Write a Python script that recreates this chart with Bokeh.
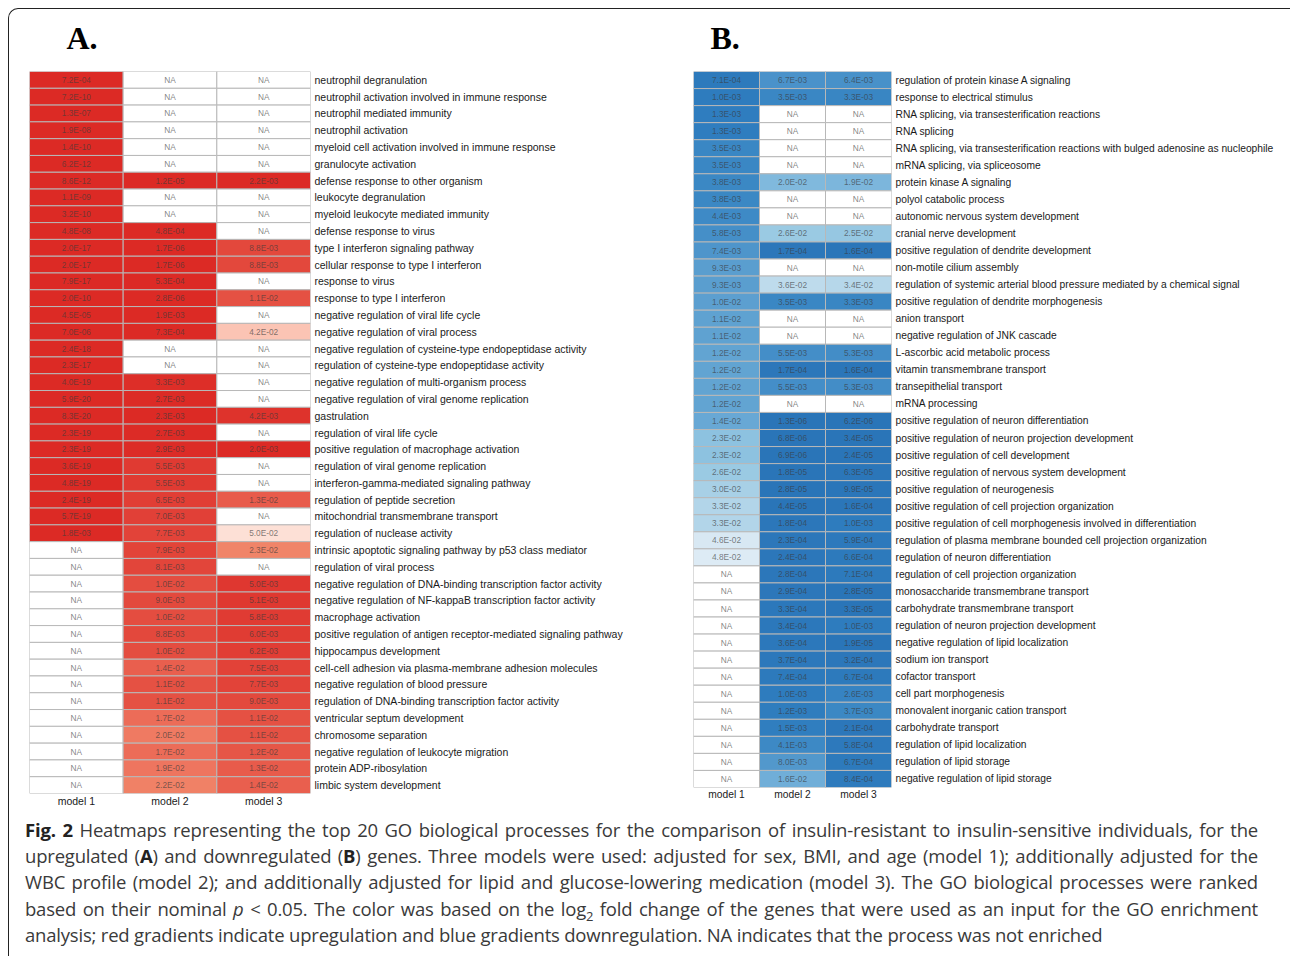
import numpy as np
from bokeh.plotting import figure
from bokeh.models import ColumnDataSource, FactorRange, LinearColorMapper, Div
from bokeh.layouts import row, column
from bokeh.core.properties import value
from bokeh.embed import file_html
from bokeh.resources import INLINE

MODELS = ["model 1", "model 2", "model 3"]

A_TERMS = [
    "neutrophil degranulation",
    "neutrophil activation involved in immune response",
    "neutrophil mediated immunity",
    "neutrophil activation",
    "myeloid cell activation involved in immune response",
    "granulocyte activation",
    "defense response to other organism",
    "leukocyte degranulation",
    "myeloid leukocyte mediated immunity",
    "defense response to virus",
    "type I interferon signaling pathway",
    "cellular response to type I interferon",
    "response to virus",
    "response to type I interferon",
    "negative regulation of viral life cycle",
    "negative regulation of viral process",
    "negative regulation of cysteine-type endopeptidase activity",
    "regulation of cysteine-type endopeptidase activity",
    "negative regulation of multi-organism process",
    "negative regulation of viral genome replication",
    "gastrulation",
    "regulation of viral life cycle",
    "positive regulation of macrophage activation",
    "regulation of viral genome replication",
    "interferon-gamma-mediated signaling pathway",
    "regulation of peptide secretion",
    "mitochondrial transmembrane transport",
    "regulation of nuclease activity",
    "intrinsic apoptotic signaling pathway by p53 class mediator",
    "regulation of viral process",
    "negative regulation of DNA-binding transcription factor activity",
    "negative regulation of NF-kappaB transcription factor activity",
    "macrophage activation",
    "positive regulation of antigen receptor-mediated signaling pathway",
    "hippocampus development",
    "cell-cell adhesion via plasma-membrane adhesion molecules",
    "negative regulation of blood pressure",
    "regulation of DNA-binding transcription factor activity",
    "ventricular septum development",
    "chromosome separation",
    "negative regulation of leukocyte migration",
    "protein ADP-ribosylation",
    "limbic system development",
]
A_MODEL1 = ["7.2E-04", "7.2E-10", "1.3E-07", "1.9E-08", "1.4E-10", "6.2E-12", "8.6E-12",
            "1.1E-09", "3.2E-10", "4.8E-08", "2.0E-17", "2.0E-17", "7.9E-17", "2.0E-10",
            "4.5E-05", "7.0E-06", "2.4E-18", "2.3E-17", "4.0E-19", "5.9E-20", "8.3E-20",
            "2.3E-19", "2.3E-19", "3.6E-19", "4.8E-19", "2.4E-19", "5.7E-19", "1.8E-03",
            "NA", "NA", "NA", "NA", "NA", "NA", "NA", "NA", "NA", "NA", "NA", "NA", "NA", "NA", "NA"]
A_MODEL2 = ["NA", "NA", "NA", "NA", "NA", "NA", "1.2E-05", "NA", "NA", "4.8E-04",
            "1.7E-06", "1.7E-06", "5.3E-04", "2.8E-06", "1.9E-03", "7.3E-04", "NA", "NA",
            "3.3E-03", "2.7E-03", "2.3E-03", "2.7E-03", "2.9E-03", "5.5E-03", "5.5E-03",
            "6.5E-03", "7.0E-03", "7.7E-03", "7.9E-03", "8.1E-03", "1.0E-02", "9.0E-03",
            "1.0E-02", "8.8E-03", "1.0E-02", "1.4E-02", "1.1E-02", "1.1E-02", "1.7E-02",
            "2.0E-02", "1.7E-02", "1.9E-02", "2.2E-02"]
A_MODEL3 = ["NA", "NA", "NA", "NA", "NA", "NA", "2.2E-03", "NA", "NA", "NA",
            "8.8E-03", "8.8E-03", "NA", "1.1E-02", "NA", "4.2E-02", "NA", "NA",
            "NA", "NA", "4.2E-03", "NA", "2.0E-03", "NA", "NA",
            "1.3E-02", "NA", "5.0E-02", "2.3E-02", "NA", "5.0E-03", "5.1E-03",
            "5.8E-03", "6.0E-03", "6.2E-03", "7.5E-03", "7.7E-03", "9.0E-03", "1.1E-02",
            "1.1E-02", "1.2E-02", "1.3E-02", "1.4E-02"]

B_TERMS = [
    "regulation of protein kinase A signaling",
    "response to electrical stimulus",
    "RNA splicing, via transesterification reactions",
    "RNA splicing",
    "RNA splicing, via transesterification reactions with bulged adenosine as nucleophile",
    "mRNA splicing, via spliceosome",
    "protein kinase A signaling",
    "polyol catabolic process",
    "autonomic nervous system development",
    "cranial nerve development",
    "positive regulation of dendrite development",
    "non-motile cilium assembly",
    "regulation of systemic arterial blood pressure mediated by a chemical signal",
    "positive regulation of dendrite morphogenesis",
    "anion transport",
    "negative regulation of JNK cascade",
    "L-ascorbic acid metabolic process",
    "vitamin transmembrane transport",
    "transepithelial transport",
    "mRNA processing",
    "positive regulation of neuron differentiation",
    "positive regulation of neuron projection development",
    "positive regulation of cell development",
    "positive regulation of nervous system development",
    "positive regulation of neurogenesis",
    "positive regulation of cell projection organization",
    "positive regulation of cell morphogenesis involved in differentiation",
    "regulation of plasma membrane bounded cell projection organization",
    "regulation of neuron differentiation",
    "regulation of cell projection organization",
    "monosaccharide transmembrane transport",
    "carbohydrate transmembrane transport",
    "regulation of neuron projection development",
    "negative regulation of lipid localization",
    "sodium ion transport",
    "cofactor transport",
    "cell part morphogenesis",
    "monovalent inorganic cation transport",
    "carbohydrate transport",
    "regulation of lipid localization",
    "regulation of lipid storage",
    "negative regulation of lipid storage",
]
B_MODEL1 = ["7.1E-04", "1.0E-03", "1.3E-03", "1.3E-03", "3.5E-03", "3.5E-03", "3.8E-03",
            "3.8E-03", "4.4E-03", "5.8E-03", "7.4E-03", "9.3E-03", "9.3E-03", "1.0E-02",
            "1.1E-02", "1.1E-02", "1.2E-02", "1.2E-02", "1.2E-02", "1.2E-02", "1.4E-02",
            "2.3E-02", "2.3E-02", "2.6E-02", "3.0E-02", "3.3E-02", "3.3E-02", "4.6E-02",
            "4.8E-02", "NA", "NA", "NA", "NA", "NA", "NA", "NA", "NA", "NA", "NA", "NA", "NA", "NA"]
B_MODEL2 = ["6.7E-03", "3.5E-03", "NA", "NA", "NA", "NA", "2.0E-02", "NA", "NA", "2.6E-02",
            "1.7E-04", "NA", "3.6E-02", "3.5E-03", "NA", "NA", "5.5E-03", "1.7E-04", "5.5E-03",
            "NA", "1.3E-06", "6.8E-06", "6.9E-06", "1.8E-05", "2.8E-05", "4.4E-05", "1.8E-04",
            "2.3E-04", "2.4E-04", "2.8E-04", "2.9E-04", "3.3E-04", "3.4E-04", "3.6E-04",
            "3.7E-04", "7.4E-04", "1.0E-03", "1.2E-03", "1.5E-03", "4.1E-03", "8.0E-03", "1.6E-02"]
B_MODEL3 = ["6.4E-03", "3.3E-03", "NA", "NA", "NA", "NA", "1.9E-02", "NA", "NA", "2.5E-02",
            "1.6E-04", "NA", "3.4E-02", "3.3E-03", "NA", "NA", "5.3E-03", "1.6E-04", "5.3E-03",
            "NA", "6.2E-06", "3.4E-05", "2.4E-05", "6.3E-05", "9.9E-05", "1.6E-04", "1.0E-03",
            "5.9E-04", "6.6E-04", "7.1E-04", "2.8E-05", "3.3E-05", "1.0E-03", "1.9E-05",
            "3.2E-04", "6.7E-04", "2.6E-03", "3.7E-03", "2.1E-04", "5.8E-04", "6.7E-04", "8.4E-04"]

P_MAX = 0.055

# colour stops (p-value -> colour)
RED_STOPS = [(0.0, "#dc2a25"), (0.0025, "#dc2a25"), (0.0055, "#e03a32"), (0.01, "#e44d40"),
             (0.014, "#e95f4e"), (0.02, "#ef7a62"), (0.023, "#f08468"), (0.042, "#fbc4b4"),
             (0.05, "#fde0d6"), (0.055, "#fff0ea")]
BLUE_STOPS = [(0.0, "#2a75b8"), (0.0002, "#2c77ba"), (0.001, "#2e7cbe"), (0.0035, "#3a87c4"),
              (0.0067, "#4a92ca"), (0.0093, "#5a9ecf"), (0.014, "#68a8d5"), (0.02, "#80b9dd"),
              (0.026, "#9acae3"), (0.033, "#b2d5e9"), (0.036, "#bedbec"), (0.046, "#d8e8f3"),
              (0.055, "#eef5fa")]


def make_palette(stops, n=1024):
    def rgb(h):
        return [int(h[i:i + 2], 16) for i in (1, 3, 5)]
    pal = []
    for k in range(n):
        p = P_MAX * k / (n - 1)
        for (p0, c0), (p1, c1) in zip(stops[:-1], stops[1:]):
            if p0 <= p <= p1:
                t = 0.0 if p1 == p0 else (p - p0) / (p1 - p0)
                a, b = rgb(c0), rgb(c1)
                c = [round(a[i] + t * (b[i] - a[i])) for i in range(3)]
                pal.append("#%02x%02x%02x" % tuple(c))
                break
    return pal


LABEL_FONT = "Liberation Sans"


def panel(title, terms, cols, stops, frame_w, frame_h, left, right, bottom,
          title_offset, label_size):
    xs, ys, txt, pv = [], [], [], []
    for m, col in zip(MODELS, cols):
        for term, s in zip(terms, col):
            xs.append(m)
            ys.append(term)
            txt.append(s)
            pv.append(np.nan if s == "NA" else float(s))
    src = ColumnDataSource(dict(x=xs, y=ys, txt=txt, pv=np.array(pv)))
    pal = make_palette(stops)
    mapper = LinearColorMapper(palette=pal, low=0, high=P_MAX, nan_color="white",
                               high_color=pal[-1], low_color=pal[0])
    p = figure(x_range=FactorRange(factors=MODELS),
               y_range=FactorRange(factors=list(reversed(terms))),
               frame_width=frame_w, frame_height=frame_h,
               min_border_left=left, min_border_right=right,
               min_border_top=70, min_border_bottom=bottom,
               x_axis_location="below", y_axis_location="right",
               output_backend="svg", toolbar_location=None, title=title)
    p.rect(x="x", y="y", width=1, height=1, source=src,
           fill_color={"field": "pv", "transform": mapper},
           line_color="#b8b8b8", line_width=1)
    p.text(x="x", y="y", text="txt", source=src, text_align="center",
           text_baseline="middle", text_font=value(LABEL_FONT), text_font_size="8.3px",
           text_color="#3a3a3a", text_alpha=0.65)
    p.grid.visible = False
    p.outline_line_color = None
    p.background_fill_color = "white"
    p.border_fill_color = None
    for ax in (p.xaxis[0], p.yaxis[0]):
        ax.axis_line_color = None
        ax.major_tick_line_color = None
        ax.minor_tick_line_color = None
        ax.major_tick_out = 0
        ax.major_tick_in = 0
        ax.major_label_text_font = LABEL_FONT
        ax.major_label_text_font_size = label_size
        ax.major_label_text_color = "#1a1a1a"
    p.yaxis[0].major_label_standoff = 4
    p.xaxis[0].major_label_standoff = 1
    p.title.text_font = "Liberation Serif"
    p.title.text_font_style = "bold"
    p.title.text_font_size = "32px"
    p.title.text_color = "black"
    p.title.align = "left"
    p.title.offset = title_offset
    p.title.standoff = 32
    return p


figA = panel("A.", A_TERMS, [A_MODEL1, A_MODEL2, A_MODEL3], RED_STOPS,
             281, 722, 20, 357, 18, 37, "10.5px")
figB = panel("B.", B_TERMS, [B_MODEL1, B_MODEL2, B_MODEL3], BLUE_STOPS,
             198, 716, 26, 388, 24, 17, "10.25px")

J = "text-align:justify;text-align-last:justify;"
caption_html = (
    "<div style=\"font-family:'Open Sans';font-size:18.5px;letter-spacing:-0.2px;"
    "line-height:26.2px;color:#3a3a3a;padding:1px 0 0 0;margin-left:11px;width:1233px;"
    "box-sizing:content-box;\">"
    f"<div style='{J}'><b style='color:#222'>Fig. 2</b> Heatmaps representing the top 20 GO biological processes for the comparison of insulin-resistant to insulin-sensitive individuals, for the</div>"
    f"<div style='{J}'>upregulated (<b style='color:#222'>A</b>) and downregulated (<b style='color:#222'>B</b>) genes. Three models were used: adjusted for sex, BMI, and age (model 1); additionally adjusted for the</div>"
    f"<div style='{J}'>WBC profile (model 2); and additionally adjusted for lipid and glucose-lowering medication (model 3). The GO biological processes were ranked</div>"
    f"<div style='{J}'>based on their nominal <i>p</i> &lt; 0.05. The color was based on the log<sub style='font-size:13px;line-height:0'>2</sub> fold change of the genes that were used as an input for the GO enrichment</div>"
    "<div>analysis; red gradients indicate upregulation and blue gradients downregulation. NA indicates that the process was not enriched</div>"
    "</div>"
)
caption = Div(text=caption_html, width=1272, height=136)

panels = row(figA, figB, styles={"margin-top": "-8px"})

root = column(panels, caption,
              styles={"margin-left": "8px", "margin-top": "8px",
                      "border-left": "1.5px solid #222", "border-top": "1.5px solid #222",
                      "border-top-left-radius": "10px", "background": "white"})

open("out.html", "w").write(file_html(root, INLINE))
